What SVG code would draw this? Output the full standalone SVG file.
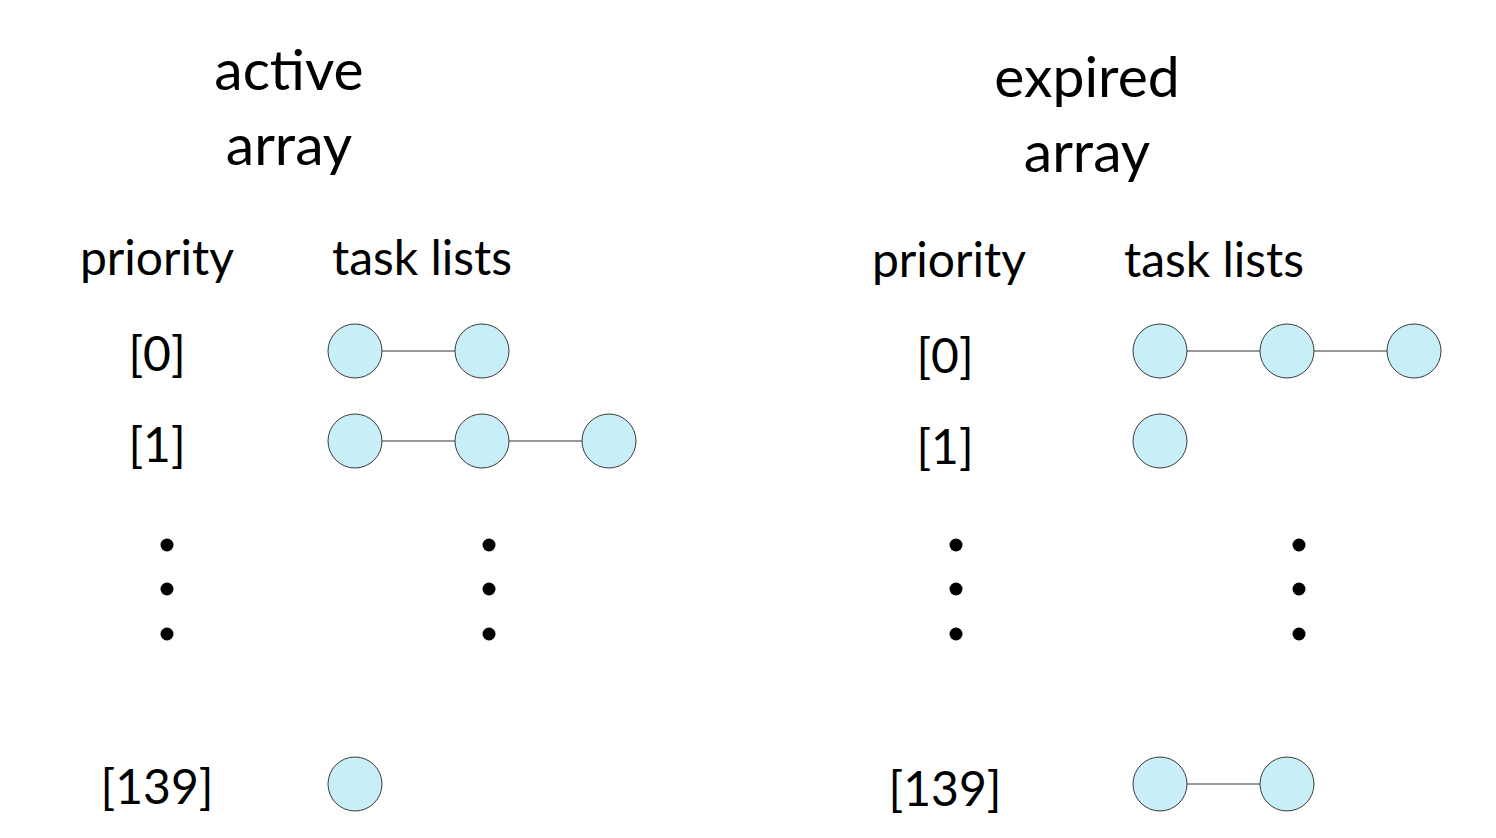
<svg xmlns="http://www.w3.org/2000/svg" width="1496" height="838" viewBox="0 0 1496 838">
<style>
.t{font-family:Lato,"Open Sans","DejaVu Sans",sans-serif;fill:#000;text-anchor:middle}
.h{font-size:57px}
.s{font-size:48px}
.n{fill:#c8eef8;stroke:#3a3a3a;stroke-width:1}
.c{stroke:#333;stroke-width:1.2}
.d{fill:#000}
</style>
<rect width="1496" height="838" fill="#fff"/>
<g id="labels">
<text class="t h" x="289" y="90">active</text>
<text class="t h" x="289" y="165">array</text>
<text class="t h" x="1087" y="97">expired</text>
<text class="t h" x="1087" y="172">array</text>
<text class="t s" x="157" y="275">priority</text>
<text class="t s" x="422" y="275">task lists</text>
<text class="t s" x="949" y="277">priority</text>
<text class="t s" x="1214" y="277">task lists</text>
<text class="t s" x="157" y="371">[0]</text>
<text class="t s" x="157" y="462">[1]</text>
<text class="t s" x="157" y="804">[139]</text>
<text class="t s" x="945" y="373">[0]</text>
<text class="t s" x="945" y="464">[1]</text>
<text class="t s" x="945" y="806">[139]</text>
</g>
<g id="connectors">
<line class="c" x1="382" y1="351" x2="455" y2="351"/>
<line class="c" x1="382" y1="441" x2="455" y2="441"/>
<line class="c" x1="509" y1="441" x2="582" y2="441"/>
<line class="c" x1="1187" y1="351" x2="1260" y2="351"/>
<line class="c" x1="1314" y1="351" x2="1387" y2="351"/>
<line class="c" x1="1187" y1="784" x2="1260" y2="784"/>
</g>
<g id="node-a0-1"><circle class="n" cx="355" cy="351" r="27"/></g>
<g id="node-a0-2"><circle class="n" cx="482" cy="351" r="27"/></g>
<g id="node-a1-1"><circle class="n" cx="355" cy="441" r="27"/></g>
<g id="node-a1-2"><circle class="n" cx="482" cy="441" r="27"/></g>
<g id="node-a1-3"><circle class="n" cx="609" cy="441" r="27"/></g>
<g id="node-a139-1"><circle class="n" cx="355" cy="784" r="27"/></g>
<g id="node-e0-1"><circle class="n" cx="1160" cy="351" r="27"/></g>
<g id="node-e0-2"><circle class="n" cx="1287" cy="351" r="27"/></g>
<g id="node-e0-3"><circle class="n" cx="1414" cy="351" r="27"/></g>
<g id="node-e1-1"><circle class="n" cx="1160" cy="441" r="27"/></g>
<g id="node-e139-1"><circle class="n" cx="1160" cy="784" r="27"/></g>
<g id="node-e139-2"><circle class="n" cx="1287" cy="784" r="27"/></g>
<g id="dots">
<circle class="d" cx="167" cy="545" r="6.5"/><circle class="d" cx="167" cy="589" r="6.5"/><circle class="d" cx="167" cy="634" r="6.5"/>
<circle class="d" cx="489" cy="545" r="6.5"/><circle class="d" cx="489" cy="589" r="6.5"/><circle class="d" cx="489" cy="634" r="6.5"/>
<circle class="d" cx="956" cy="545" r="6.5"/><circle class="d" cx="956" cy="589" r="6.5"/><circle class="d" cx="956" cy="634" r="6.5"/>
<circle class="d" cx="1299" cy="545" r="6.5"/><circle class="d" cx="1299" cy="589" r="6.5"/><circle class="d" cx="1299" cy="634" r="6.5"/>
</g>
</svg>
